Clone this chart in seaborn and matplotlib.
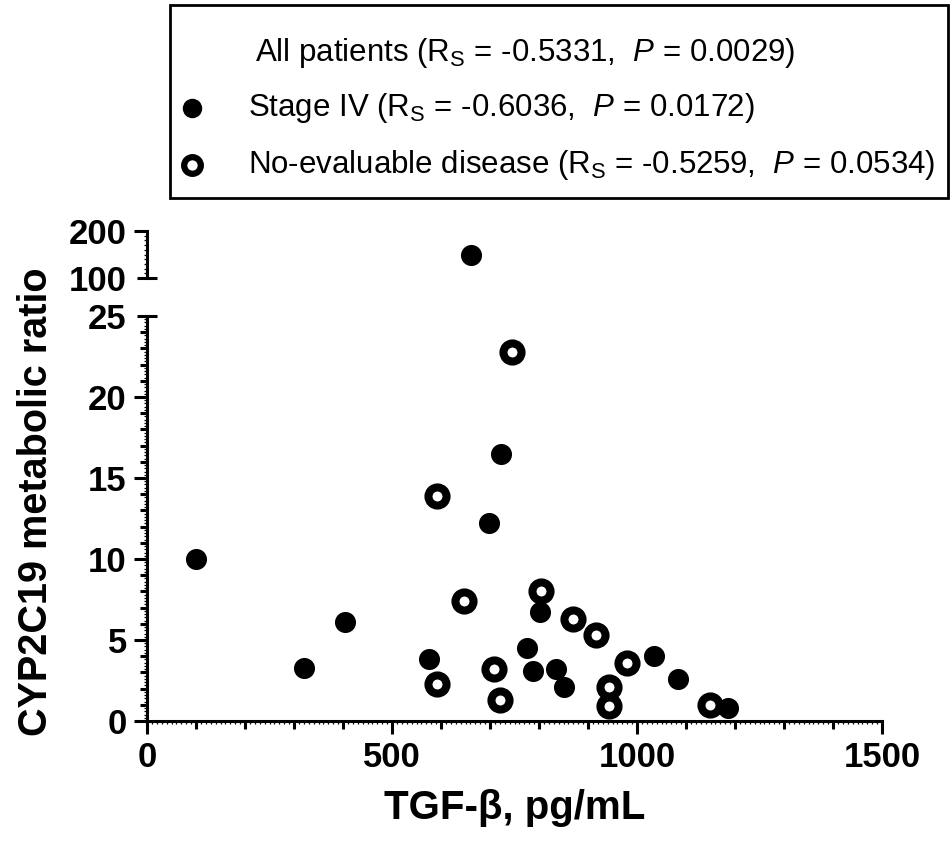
import numpy as np
import pandas as pd
import matplotlib
matplotlib.use("Agg")
import matplotlib.pyplot as plt
import seaborn as sns
from matplotlib.ticker import FixedLocator, MultipleLocator, FuncFormatter
from matplotlib.lines import Line2D
from matplotlib.patches import Rectangle

# ---------------- data ----------------
stage4_x = [100, 320, 405, 575, 661, 697, 722, 776, 787, 802, 835, 852, 1035, 1084, 1185]
stage4_y = [10.0, 3.3, 6.1, 3.8, 150, 12.2, 16.5, 4.5, 3.1, 6.7, 3.2, 2.1, 4.0, 2.6, 0.8]
noeval_x = [591, 591, 646, 709, 720, 745, 804, 870, 916, 943, 943, 980, 1149]
noeval_y = [13.9, 2.3, 7.4, 3.2, 1.3, 22.8, 8.0, 6.3, 5.3, 2.1, 0.9, 3.6, 1.0]

x_ticks = [0, 500, 1000, 1500]
y_ticks_low = [0, 5, 10, 15, 20, 25]
y_ticks_high = [100, 200]
legend_labels = [
    r"All patients (R$_\mathregular{S}$ = -0.5331,  $P$ = 0.0029)",
    r"Stage IV (R$_\mathregular{S}$ = -0.6036,  $P$ = 0.0172)",
    r"No-evaluable disease (R$_\mathregular{S}$ = -0.5259,  $P$ = 0.0534)",
]
x_label = "TGF-β, pg/mL"
y_label = "CYP2C19 metabolic ratio"

# ---------------- style ----------------
sns.set_style("ticks")
plt.rcParams["font.family"] = ["Liberation Sans", "DejaVu Sans"]
plt.rcParams["mathtext.fontset"] = "custom"
plt.rcParams["mathtext.rm"] = "Liberation Sans"
plt.rcParams["mathtext.it"] = "Liberation Sans:italic"
plt.rcParams["mathtext.bf"] = "Liberation Sans:bold"
for k in ("text.color", "axes.labelcolor", "xtick.color", "ytick.color", "axes.edgecolor"):
    plt.rcParams[k] = "black"

W, H = 952, 844
fig = plt.figure(figsize=(W / 100, H / 100), dpi=100)


def fx(px):
    return px / W


def fy(py):
    return 1 - py / H


x0_px, x1_px = 147, 882
ylo0, ylo1 = 721, 316       # 0 and 25
yhi0, yhi1 = 278, 231       # 100 and 200

ax = fig.add_axes([fx(x0_px), fy(ylo0), (x1_px - x0_px) / W, (ylo0 - ylo1) / H])
axt = fig.add_axes([fx(x0_px), fy(yhi0), (x1_px - x0_px) / W, (yhi0 - yhi1) / H])

df = pd.DataFrame({
    "x": stage4_x + noeval_x,
    "y": stage4_y + noeval_y,
    "group": ["Stage IV"] * len(stage4_x) + ["No-evaluable"] * len(noeval_x),
})

LW = 2.2
for axx, sub in ((ax, df[df.y <= 25]), (axt, df[df.y >= 100])):
    s4 = sub[sub.group == "Stage IV"]
    ne = sub[sub.group == "No-evaluable"]
    if len(s4):
        sns.scatterplot(data=s4, x="x", y="y", ax=axx, s=230, color="black",
                        edgecolor="black", linewidth=0, clip_on=False, zorder=3,
                        legend=False)
    if len(ne):
        sns.scatterplot(data=ne, x="x", y="y", ax=axx, s=170, color="white",
                        edgecolor="black", linewidth=5.8, clip_on=False, zorder=3,
                        legend=False)

# bottom axis
ax.set_xlim(0, 1500)
ax.set_ylim(0, 25)
for sp in ("top", "right"):
    ax.spines[sp].set_visible(False)
for sp in ("left", "bottom"):
    ax.spines[sp].set_linewidth(LW)
ax.xaxis.set_major_locator(FixedLocator(list(range(0, 1501, 100))))
ax.xaxis.set_major_formatter(FuncFormatter(lambda v, p: f"{int(v)}" if int(v) in x_ticks else ""))
ax.xaxis.set_minor_locator(MultipleLocator(10))
ax.yaxis.set_major_locator(FixedLocator(list(range(0, 26))))
ax.yaxis.set_major_formatter(FuncFormatter(lambda v, p: f"{int(v)}" if int(v) in y_ticks_low else ""))
ax.yaxis.set_minor_locator(MultipleLocator(0.2))
ax.tick_params(which="major", length=9.5, width=LW, pad=5, labelsize=25, color="black")
ax.tick_params(which="minor", length=2.0, width=0.9, color="black")
for lab in ax.get_xticklabels() + ax.get_yticklabels():
    lab.set_fontweight("bold")
ax.set_xlabel("")
ax.set_ylabel("")

# top axis
axt.set_xlim(0, 1500)
axt.set_ylim(100, 200)
for sp in ("top", "right", "bottom"):
    axt.spines[sp].set_visible(False)
axt.spines["left"].set_linewidth(LW)
axt.set_xticks([])
axt.yaxis.set_major_locator(FixedLocator(y_ticks_high))
axt.yaxis.set_minor_locator(MultipleLocator(10))
axt.tick_params(which="major", length=9.5, width=LW, pad=5, labelsize=25)
axt.tick_params(which="minor", length=2.0, width=0.9)
for lab in axt.get_yticklabels():
    lab.set_fontweight("bold")
axt.set_xlabel("")
axt.set_ylabel("")
axt.patch.set_alpha(0)

fig.canvas.draw()
# medium-length ticks between labelled ones
for t, v in zip(ax.xaxis.get_major_ticks(), ax.xaxis.get_majorticklocs()):
    if int(v) not in x_ticks:
        t.tick1line.set_markersize(5.8)
for t, v in zip(ax.yaxis.get_major_ticks(), ax.yaxis.get_majorticklocs()):
    if int(v) not in y_ticks_low:
        t.tick1line.set_markersize(5.0)
    elif int(v) == 25:
        t.tick1line.set_marker("_")
        t.tick1line.set_markersize(14)
for t, v in zip(axt.yaxis.get_major_ticks(), axt.yaxis.get_majorticklocs()):
    if int(v) == 100:
        t.tick1line.set_marker("_")
        t.tick1line.set_markersize(15)

# axis labels
fig.text(fx(515), fy(808), x_label, ha="center", va="center", fontsize=29, fontweight="bold")
fig.text(fx(36), fy(502), y_label, ha="center", va="center", rotation=90,
         fontsize=28.5, fontweight="bold")

# legend box
fig.add_artist(Rectangle((fx(170), fy(198)), (948 - 170) / W, (198 - 5) / H,
                         transform=fig.transFigure, fill=False, lw=2.0, edgecolor="black"))
rows_y = [53, 108, 165]
text_x = [255, 248, 248]
for lab, ry, tx in zip(legend_labels, rows_y, text_x):
    fig.text(fx(tx), fy(ry), lab, ha="left", va="center", fontsize=22.5)
fig.add_artist(Line2D([fx(192)], [fy(rows_y[1])], marker="o", ms=14, color="black",
                      mec="black", mew=0, linestyle="none", transform=fig.transFigure))
fig.add_artist(Line2D([fx(192)], [fy(rows_y[2])], marker="o", ms=12, mfc="white",
                      mec="black", mew=4.5, linestyle="none", transform=fig.transFigure))

fig.savefig("out.png", dpi=100)
